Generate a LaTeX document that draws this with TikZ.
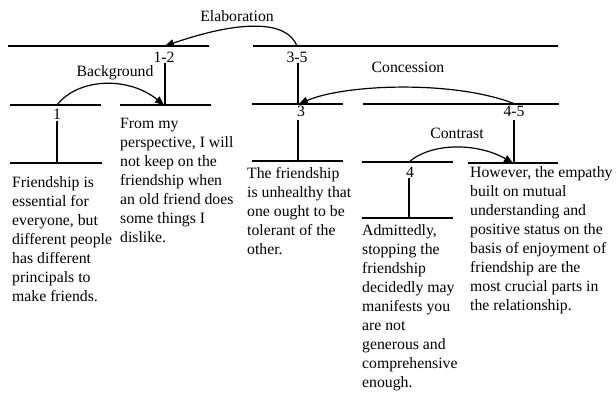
\documentclass[tikz,border=0pt]{standalone}
\usepackage{fontspec}
\setmainfont{Liberation Serif}
\usetikzlibrary{arrows.meta}
\begin{document}
\begin{tikzpicture}[x=1pt,y=-1pt,
  seg/.style={line width=1.2pt},
  rel/.style={line width=1.2pt,-{Triangle[length=9pt,width=7.5pt]}},
  lbl/.style={font=\fontsize{15.75}{19}\selectfont, inner sep=0pt},
  txt/.style={font=\fontsize{15.75}{19}\selectfont, inner sep=0pt, align=left, anchor=base west}]
\useasboundingbox (0,0) rectangle (616,392);

% horizontal spans
\draw[seg] (8,46) coordinate (s12l) -- (209,46) coordinate (s12r);
\draw[seg] (253,46) coordinate (s35l) -- (558,46) coordinate (s35r);
\draw[seg] (10,105) coordinate (s1l) -- (101,105) coordinate (s1r);
\draw[seg] (120,105) coordinate (s2l) -- (211,105) coordinate (s2r);
\draw[seg] (252,104) coordinate (s3l) -- (343,104) coordinate (s3r);
\draw[seg] (363,104) coordinate (s45l) -- (559,104) coordinate (s45r);
\draw[seg] (10,163) coordinate (b1l) -- (102,163) coordinate (b1r);
\draw[seg] (252,161) coordinate (b3l) -- (343,161) coordinate (b3r);
\draw[seg] (362,162) coordinate (s4l) -- (453,162) coordinate (s4r);
\draw[seg] (468,163) coordinate (s5l) -- (558,163) coordinate (s5r);
\draw[seg] (362,218) coordinate (b4l) -- (453,218) coordinate (b4r);

% span labels
\node[lbl] (n12) at (164,57) {1-2};
\node[lbl] (n35) at (297,57) {3-5};
\node[lbl] (n1) at (57,114) {1};
\node[lbl] (n3) at (301,111) {3};
\node[lbl] (n45) at (514,111) {4-5};
\node[lbl] (n4) at (410,172) {4};

% vertical stems
\coordinate (v12t) at (165,63);  \coordinate (v12b) at (165,105);
\coordinate (v35t) at (298,63);  \coordinate (v35b) at (298,104);
\coordinate (v1t) at (57,121);   \coordinate (v1b) at (57,163);
\coordinate (v3t) at (298,120);  \coordinate (v3b) at (298,161);
\coordinate (v45t) at (514,120); \coordinate (v45b) at (514,163);
\coordinate (v4t) at (409,178);  \coordinate (v4b) at (409,218);
\draw[seg] (v12t) -- (v12b);
\draw[seg] (v35t) -- (v35b);
\draw[seg] (v1t) -- (v1b);
\draw[seg] (v3t) -- (v3b);
\draw[seg] (v45t) -- (v45b);
\draw[seg] (v4t) -- (v4b);

% relation arcs
\coordinate (e0) at (297,46);  \coordinate (e1) at (165,46);
\coordinate (g0) at (57,105);  \coordinate (g1) at (164,105);
\coordinate (c0) at (515,104); \coordinate (c1) at (299,104);
\coordinate (k0) at (409,162); \coordinate (k1) at (513,163);
\draw[rel] (e0) .. controls (287,20) and (240,20) .. (e1);
\draw[rel] (g0) .. controls (78,78) and (128,76) .. (g1);
\draw[rel] (c0) .. controls (455,80) and (345,84) .. (c1);
\draw[rel] (k0) .. controls (432,142) and (478,143) .. (k1);

\node[lbl] (le) at (237,16) {Elaboration};
\node[lbl] (lb) at (115,73) {Background};
\node[lbl] (lc) at (408,67) {Concession};
\node[lbl] (lk) at (457,133) {Contrast};

% texts (anchored at the baseline of their last line)
\node[txt] (t1) at (12,301) {Friendship is\\essential for\\everyone, but\\different people\\has different\\principals to\\make friends.};
\node[txt] (t2) at (120,242) {From my\\perspective, I will\\not keep on the\\friendship when\\an old friend does\\some things I\\dislike.};
\node[txt] (t3) at (247,254) {The friendship\\is unhealthy that\\one ought to be\\tolerant of the\\other.};
\node[txt] (t4) at (362,387) {Admittedly,\\stopping the\\friendship\\decidedly may\\manifests you\\are not\\generous and\\comprehensive\\enough.};
\node[txt] (t5) at (470,310) {However, the empathy\\built on mutual\\understanding and\\positive status on the\\basis of enjoyment of\\friendship are the\\most crucial parts in\\the relationship.};
\end{tikzpicture}
\end{document}
